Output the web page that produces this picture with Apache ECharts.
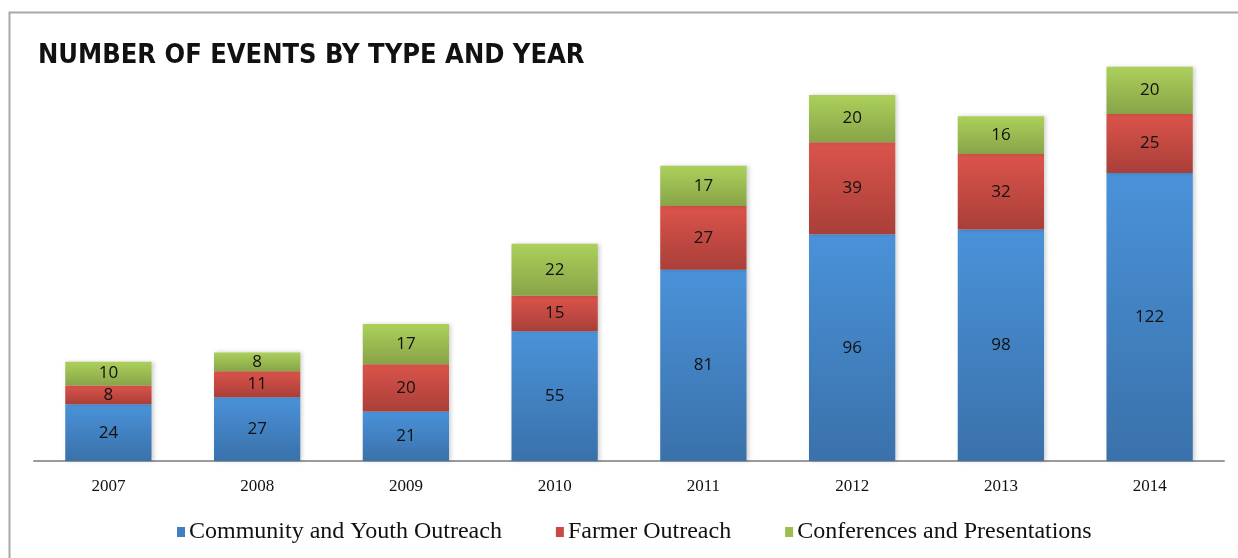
<!DOCTYPE html>
<html>
<head>
<meta charset="utf-8">
<script src="https://cdn.jsdelivr.net/npm/echarts@6/dist/echarts.min.js"></script>
<style>
html,body{margin:0;padding:0;background:#fff;}
#chart{width:1238px;height:558px;}
</style>
</head>
<body>
<div id="chart"></div>
<script>
const years = ['2007','2008','2009','2010','2011','2012','2013','2014'];
const community = [24, 27, 21, 55, 81, 96, 98, 122];
const farmer = [8, 11, 20, 15, 27, 39, 32, 25];
const conferences = [10, 8, 17, 22, 17, 20, 16, 20];
const seriesNames = ['Community and Youth Outreach', 'Farmer Outreach', 'Conferences and Presentations'];

function grad(top, bottom) {
  return new echarts.graphic.LinearGradient(0, 0, 0, 1, [
    {offset: 0, color: top}, {offset: 1, color: bottom}
  ]);
}
const colors = [
  grad('#4a92d9', '#3a71aa'),
  grad('#db544b', '#a93f39'),
  grad('#acd05b', '#88a448')
];
const legendColors = ['#3f7fc2', '#c94a42', '#9bbd52'];

const chart = echarts.init(document.getElementById('chart'));
const labelStyle = {
  show: true, position: 'inside', color: '#111',
  fontFamily: 'Open Sans', fontSize: 17
};
function mk(name, data, i) {
  return {
    name: name, type: 'bar', stack: 'total', data: data,
    barWidth: '58%',
    itemStyle: {color: colors[i], shadowColor: 'rgba(0,0,0,0.18)', shadowBlur: 4, shadowOffsetX: 2},
    label: labelStyle,
    emphasis: {disabled: true}
  };
}
chart.setOption({
  animation: false,
  backgroundColor: '#fff',
  title: {
    text: 'NUMBER OF EVENTS BY TYPE AND YEAR',
    left: 33, top: 37,
    textStyle: {fontFamily: 'DejaVu Sans Condensed', fontWeight: 'bold', fontSize: 27, color: '#111'}
  },
  graphic: [{
    type: 'rect', left: 7, top: 10, silent: true,
    shape: {width: 1400, height: 700},
    style: {fill: 'none', stroke: '#a8a8a8', lineWidth: 2}
  }],
  legend: {
    bottom: 9, left: 172,
    itemWidth: 8, itemHeight: 10, itemGap: 54,
    icon: 'rect',
    textStyle: {fontFamily: 'Liberation Serif', fontSize: 24, color: '#111', padding: [0, 0, 0, -1]},
    data: seriesNames.map((n, i) => ({name: n, itemStyle: {color: legendColors[i]}}))
  },
  grid: {left: 34, right: 14, top: 36, bottom: 97},
  xAxis: {
    type: 'category', data: years,
    axisLine: {lineStyle: {color: '#9a9a9a', width: 2}},
    axisTick: {show: false},
    axisLabel: {fontFamily: 'Liberation Serif', fontSize: 17, color: '#111', margin: 17}
  },
  yAxis: {
    type: 'value', min: 0, max: 180, show: false,
    splitLine: {show: false}
  },
  series: [
    mk(seriesNames[0], community, 0),
    mk(seriesNames[1], farmer, 1),
    mk(seriesNames[2], conferences, 2)
  ]
});
</script>
</body>
</html>
